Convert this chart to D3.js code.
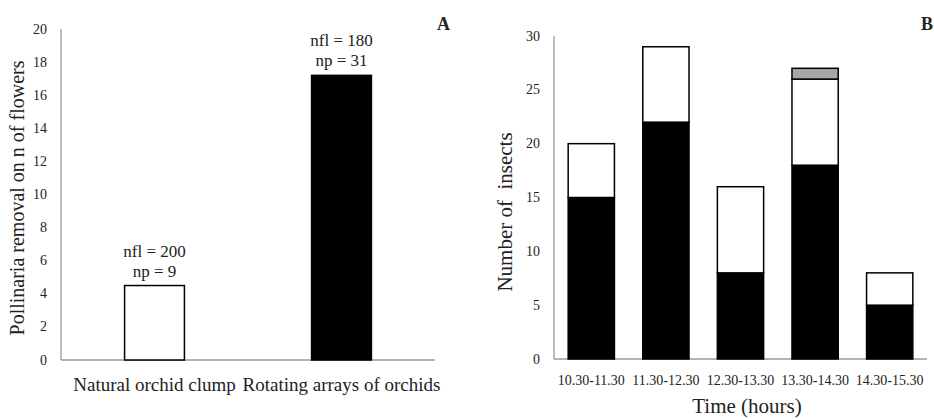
<!DOCTYPE html>
<html>
<head>
<meta charset="utf-8">
<script src="https://cdn.jsdelivr.net/npm/d3@7"></script>
<style>
  body { margin: 0; background: #fff; }
  svg text { font-family: 'Liberation Serif', 'DejaVu Serif', serif; fill: #222; }
</style>
</head>
<body>
<div id="chart"></div>
<script>
'use strict';

// panel A data
var sites = ['Natural orchid clump', 'Rotating arrays of orchids'];
var removal = [4.5, 17.2];
var siteNotes = [['nfl = 200', 'np = 9'], ['nfl = 180', 'np = 31']];
var ticksA = [0, 2, 4, 6, 8, 10, 12, 14, 16, 18, 20];

// panel B data
var hours = ['10.30-11.30', '11.30-12.30', '12.30-13.30', '13.30-14.30', '14.30-15.30'];
var blackInsects = [15, 22, 8, 18, 5];
var whiteInsects = [5, 7, 8, 8, 3];
var greyInsects = [0, 0, 0, 1, 0];
var ticksB = [0, 5, 10, 15, 20, 25, 30];

var svg = d3.select('#chart').append('svg')
  .attr('width', 934)
  .attr('height', 419);

var axisColor = '#9a9a9a';

// ---------- panel A ----------
var xA = d3.scaleBand().domain(sites).range([61, 435]).paddingInner(0.68).paddingOuter(0.34);
var yA = d3.scaleLinear().domain([0, 20]).range([360, 29]);

var gA = svg.append('g');

gA.selectAll('text.tick').data(ticksA)
  .enter().append('text')
  .attr('x', 47)
  .attr('y', function(d){ return yA(d) + 4.5; })
  .attr('text-anchor', 'end')
  .style('font-size', '14px')
  .text(function(d){ return d; });

gA.append('line').attr('x1', 61).attr('x2', 61).attr('y1', yA(20)).attr('y2', yA(0))
  .attr('stroke', axisColor).attr('stroke-width', 1.3);
gA.append('line').attr('x1', 61).attr('x2', 435).attr('y1', yA(0)).attr('y2', yA(0))
  .attr('stroke', axisColor).attr('stroke-width', 1.3);

gA.selectAll('rect').data(removal)
  .enter().append('rect')
  .attr('x', function(d, i){ return xA(sites[i]); })
  .attr('y', function(d){ return yA(d); })
  .attr('width', xA.bandwidth())
  .attr('height', function(d){ return yA(0) - yA(d); })
  .attr('fill', function(d, i){ return i === 0 ? '#fff' : '#000'; })
  .attr('stroke', '#000')
  .attr('stroke-width', 1.5);

sites.forEach(function(s, i){
  var cx = xA(s) + xA.bandwidth() / 2;
  var top = yA(removal[i]);
  siteNotes[i].forEach(function(line, j){
    gA.append('text')
      .attr('x', cx)
      .attr('y', top - 29 + j * 20)
      .attr('text-anchor', 'middle')
      .style('font-size', '17px')
      .text(line);
  });
  gA.append('text')
    .attr('x', cx)
    .attr('y', 391)
    .attr('text-anchor', 'middle')
    .style('font-size', '19px')
    .text(s);
});

gA.append('text')
  .attr('transform', 'translate(24,' + 198 + ') rotate(-90)')
  .attr('text-anchor', 'middle')
  .style('font-size', '20px')
  .text('Pollinaria removal on n of flowers');

gA.append('text')
  .attr('x', 437).attr('y', 30)
  .style('font-size', '18px').style('font-weight', 'bold')
  .text('A');

// ---------- panel B ----------
var xB = d3.scaleBand().domain(hours).range([554, 927]).paddingInner(0.38).paddingOuter(0.19);
var yB = d3.scaleLinear().domain([0, 30]).range([359, 36]);

var gB = svg.append('g');

gB.selectAll('text.tick').data(ticksB)
  .enter().append('text')
  .attr('x', 540)
  .attr('y', function(d){ return yB(d) + 4.5; })
  .attr('text-anchor', 'end')
  .style('font-size', '14px')
  .text(function(d){ return d; });

gB.append('line').attr('x1', 554).attr('x2', 554).attr('y1', yB(30)).attr('y2', yB(0))
  .attr('stroke', axisColor).attr('stroke-width', 1.3);
gB.append('line').attr('x1', 554).attr('x2', 927).attr('y1', yB(0)).attr('y2', yB(0))
  .attr('stroke', axisColor).attr('stroke-width', 1.3);

var rows = hours.map(function(h, i){
  return { hour: h, black: blackInsects[i], white: whiteInsects[i], grey: greyInsects[i] };
});
var stack = d3.stack().keys(['black', 'white', 'grey'])(rows);
var fills = { black: '#000', white: '#fff', grey: '#a6a6a6' };

stack.forEach(function(layer){
  gB.selectAll('rect.' + layer.key).data(layer.filter(function(d){ return d[1] > d[0]; }))
    .enter().append('rect')
    .attr('class', layer.key)
    .attr('x', function(d){ return xB(d.data.hour); })
    .attr('y', function(d){ return yB(d[1]); })
    .attr('width', xB.bandwidth())
    .attr('height', function(d){ return yB(d[0]) - yB(d[1]); })
    .attr('fill', fills[layer.key])
    .attr('stroke', '#000')
    .attr('stroke-width', 1.5);
});

gB.selectAll('text.cat').data(hours)
  .enter().append('text')
  .attr('x', function(d){ return xB(d) + xB.bandwidth() / 2; })
  .attr('y', 385)
  .attr('text-anchor', 'middle')
  .style('font-size', '14px')
  .text(function(d){ return d; });

gB.append('text')
  .attr('x', 747).attr('y', 413)
  .attr('text-anchor', 'middle')
  .style('font-size', '21px')
  .text('Time (hours)');

gB.append('text')
  .attr('transform', 'translate(512,' + 212 + ') rotate(-90)')
  .attr('text-anchor', 'middle')
  .style('font-size', '21px')
  .style('white-space', 'pre')
  .text('Number of  insects');

gB.append('text')
  .attr('x', 921).attr('y', 30)
  .style('font-size', '18px').style('font-weight', 'bold')
  .text('B');
</script>
</body>
</html>
